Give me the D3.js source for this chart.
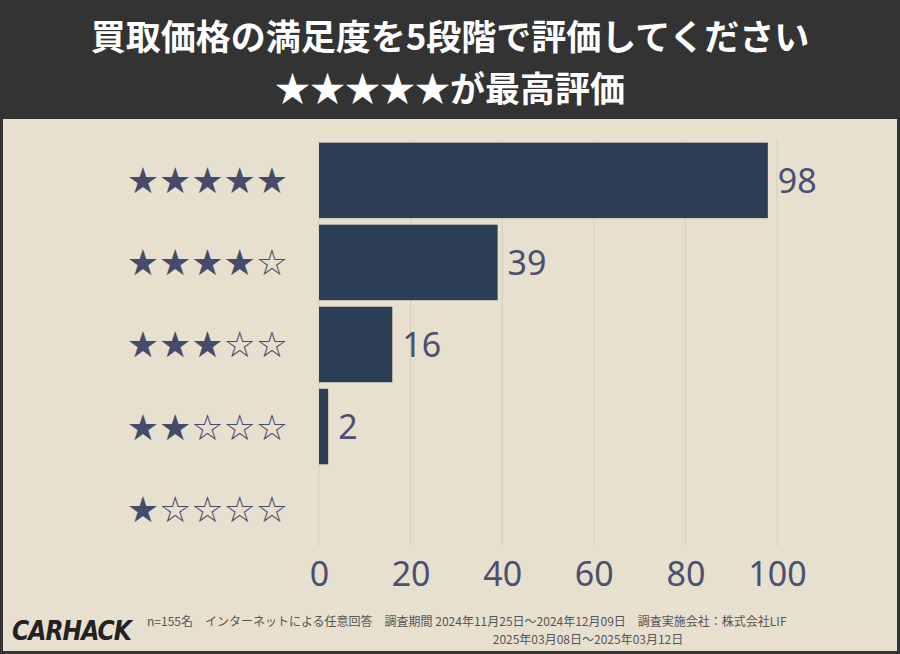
<html>
<head>
<meta charset="utf-8">
<script src="https://d3js.org/d3.v7.min.js"></script>
<style>
body { margin:0; background:#333; }
svg { display:block; font-family:"Noto Sans CJK JP","Noto Sans",sans-serif; }
</style>
</head>
<body>
<script>
var categories = ["★★★★★", "★★★★☆", "★★★☆☆", "★★☆☆☆", "★☆☆☆☆"];
var values = [98, 39, 16, 2, 0];
var ticks = [0, 20, 40, 60, 80, 100];

var W = 900, H = 654;
var svg = d3.select("body").append("svg").attr("width", W).attr("height", H);

// frame + header
svg.append("rect").attr("width", W).attr("height", H).attr("fill", "#333333");
svg.append("rect").attr("x", 3).attr("y", 119).attr("width", W - 6).attr("height", H - 122).attr("fill", "#e8e0cf");
svg.append("text").attr("x", W / 2).attr("y", 50).attr("text-anchor", "middle")
  .attr("fill", "#fff").attr("font-size", 35).attr("font-weight", "bold")
  .text("買取価格の満足度を5段階で評価してください");
svg.append("text").attr("x", W / 2).attr("y", 102).attr("text-anchor", "middle")
  .attr("fill", "#fff").attr("font-size", 35).attr("font-weight", "bold")
  .text("★★★★★が最高評価");

var x = d3.scaleLinear().domain([0, 100]).range([319, 777]);
var y = d3.scaleBand().domain(categories).range([141, 548]).paddingInner(0.08).paddingOuter(0.02);

// grid
svg.selectAll(".grid").data(ticks).enter().append("line")
  .attr("x1", d => x(d)).attr("x2", d => x(d))
  .attr("y1", 141).attr("y2", 546)
  .attr("stroke", "#d6ccba").attr("stroke-width", 1);

svg.selectAll(".bar").data(values).enter().append("rect")
  .attr("x", x(0)).attr("y", (d, i) => y(categories[i]))
  .attr("width", d => x(d) - x(0)).attr("height", y.bandwidth())
  .attr("fill", "#2c3e55");

svg.selectAll(".val").data(values).enter().filter(d => d > 0).append("text")
  .attr("x", d => x(d) + 10).attr("y", (d, i) => y(categories[values.indexOf(d)]) + y.bandwidth() / 2)
  .attr("dy", "0.36em").attr("font-size", 34).attr("fill", "#4a5070")
  .attr("font-family", "Noto Sans, sans-serif")
  .text(d => d);

svg.selectAll(".cat").data(categories).enter().append("text")
  .attr("x", 288).attr("y", d => y(d) + y.bandwidth() / 2)
  .attr("dy", "0.36em").attr("text-anchor", "end")
  .attr("font-size", 36).attr("fill", "#454c6b")
  .attr("font-family", "DejaVu Sans, sans-serif")
  .text(d => d);

var ax = svg.append("g").attr("transform", "translate(0,548)")
  .call(d3.axisBottom(x).tickValues(ticks).tickSize(0).tickPadding(14));
ax.select(".domain").remove();
ax.selectAll("text").attr("font-size", 34).attr("fill", "#4a5070")
  .attr("font-family", "Noto Sans, sans-serif");

// footer
svg.append("text").attr("x", 12).attr("y", 640).attr("font-size", 26)
  .attr("font-weight", "bold").attr("font-style", "italic").attr("fill", "#222")
  .attr("font-family", "DejaVu Sans Condensed, sans-serif").attr("textLength", 120)
  .text("CARHACK");
svg.append("text").attr("x", 147).attr("y", 626).attr("font-size", 12).attr("fill", "#555")
  .text("n=155名　インターネットによる任意回答　調査期間 2024年11月25日～2024年12月09日　調査実施会社：株式会社LIF");
svg.append("text").attr("x", 588).attr("y", 644).attr("text-anchor", "middle").attr("font-size", 12).attr("fill", "#555")
  .text("2025年03月08日～2025年03月12日");
</script>
</body>
</html>
